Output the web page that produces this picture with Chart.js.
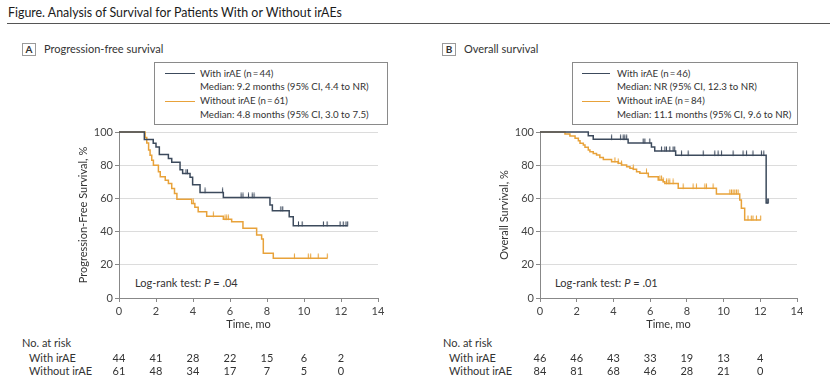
<!DOCTYPE html>
<html><head><meta charset="utf-8">
<script src="https://cdn.jsdelivr.net/npm/chart.js@4.4.1/dist/chart.umd.min.js"></script>
<style>
html,body{margin:0;padding:0;background:#fff;}
#wrap{position:relative;width:830px;height:390px;overflow:hidden;font-family:Lato,'Liberation Sans',sans-serif;color:#333;}
.t{position:absolute;white-space:nowrap;font-size:11px;line-height:14px;}
.box{position:absolute;border:1px solid #8a8a8a;box-sizing:border-box;}
.lab{position:absolute;border:1px solid #9a9a9a;box-sizing:border-box;width:14px;height:13px;font-size:10px;font-weight:bold;text-align:center;line-height:11px;}
.ln{position:absolute;height:1.5px;}
canvas{position:absolute;top:0;}
</style></head><body>
<div id="wrap">
 <div class="t" style="left:8px;top:4px;font-size:12.4px;line-height:17px;color:#1a1a1a;">Figure. Analysis of Survival for Patients With or Without irAEs</div>
 <div style="position:absolute;left:7px;top:23px;width:823px;height:1px;background:#555"></div>

 <div class="lab" style="left:22px;top:43px;">A</div>
 <div class="t" style="left:44px;top:42px;">Progression-free survival</div>
 <div class="lab" style="left:442px;top:43px;">B</div>
 <div class="t" style="left:464px;top:42px;">Overall survival</div>

 <div class="box" style="left:154px;top:62px;width:234px;height:63px;"></div>
 <div class="ln" style="left:165px;top:72.5px;width:30px;background:#3c4a5c"></div>
 <div class="ln" style="left:165px;top:100.5px;width:30px;background:#e8a23a"></div>
 <div class="t" style="left:200px;top:66.5px;font-size:9.7px;line-height:13.8px;">With irAE (n&#8201;=&#8201;44)<br>Median: 9.2 months (95% CI, 4.4 to NR)<br>Without irAE (n&#8201;=&#8201;61)<br>Median: 4.8 months (95% CI, 3.0 to 7.5)</div>

 <div class="box" style="left:572px;top:62px;width:226px;height:63px;"></div>
 <div class="ln" style="left:582px;top:72.5px;width:28px;background:#3c4a5c"></div>
 <div class="ln" style="left:582px;top:100.5px;width:28px;background:#e8a23a"></div>
 <div class="t" style="left:617px;top:66.5px;font-size:9.7px;line-height:13.8px;">With irAE (n&#8201;=&#8201;46)<br>Median: NR (95% CI, 12.3 to NR)<br>Without irAE (n&#8201;=&#8201;84)<br>Median: 11.1 months (95% CI, 9.6 to NR)</div>

 <div class="t" style="left:135px;top:276px;">Log-rank test: <i>P</i> = .04</div>
 <div class="t" style="left:555px;top:276px;">Log-rank test: <i>P</i> = .01</div>

 <div class="t" style="left:22px;top:336px;">No. at risk</div>
 <div class="t" style="left:29px;top:351px;">With irAE</div>
 <div class="t" style="left:29px;top:364px;">Without irAE</div>
 <div class="t" style="left:443px;top:336px;">No. at risk</div>
 <div class="t" style="left:449px;top:351px;">With irAE</div>
 <div class="t" style="left:449px;top:364px;">Without irAE</div>

 <canvas id="cA" width="415" height="390" style="left:0px"></canvas>
 <canvas id="cB" width="415" height="390" style="left:415px"></canvas>
</div>
<script>
// ---- data ----
const xTicks = [0, 2, 4, 6, 8, 10, 12, 14];
const riskTimes = [0, 2, 4, 6, 8, 10, 12];

// Panel A: progression-free survival
const pfsWithTime = [0, 1.37, 1.85, 2.0, 2.18, 2.67, 2.85, 3.3, 3.44, 3.84, 3.98, 4.38, 5.64, 8.16, 8.29, 9.2, 9.42, 12.36];
const pfsWithSurv = [100, 95.5, 93.2, 90.9, 86.4, 84.1, 81.8, 77.3, 75.0, 72.7, 68.2, 63.6, 60.6, 56.0, 52.6, 48.9, 43.5, 43.5];
const pfsWithCensor = [3.62, 3.7, 4.65, 5.6, 6.6, 6.7, 7.0, 7.2, 7.3, 8.75, 8.85, 9.7, 9.9, 11.05, 11.25, 11.95, 12.12, 12.27, 12.36];
const pfsWithoutTime = [0, 1.41, 1.5, 1.6, 1.68, 1.77, 1.86, 2.13, 2.23, 2.5, 2.67, 2.85, 3.0, 3.13, 3.93, 4.1, 4.28, 4.74, 5.64, 6.09, 6.7, 7.44, 7.71, 7.8, 8.34, 11.26];
const pfsWithoutSurv = [100, 96.7, 93.4, 89.2, 86.0, 83.0, 80.0, 76.0, 73.0, 71.0, 69.0, 66.0, 63.0, 59.5, 57.0, 54.6, 52.0, 49.2, 47.4, 46.0, 42.0, 38.0, 35.5, 27.0, 24.0, 24.0];
const pfsWithoutCensor = [4.02, 5.1, 5.73, 5.82, 5.91, 9.48, 10.23, 10.36, 10.77, 11.26];
const pfsRiskWith = [44, 41, 28, 22, 15, 6, 2];
const pfsRiskWithout = [61, 48, 34, 17, 7, 5, 0];

// Panel B: overall survival
const osWithTime = [0, 2.63, 2.9, 4.8, 6.07, 6.25, 7.39, 12.32, 12.44];
const osWithSurv = [100, 97.8, 95.6, 93.4, 91.0, 88.6, 86.0, 57.3, 57.3];
const osWithCensor = [3.9, 4.39, 4.53, 4.62, 4.72, 5.62, 5.71, 5.98, 6.62, 6.8, 6.89, 7.07, 7.25, 7.34, 7.71, 8.07, 8.89, 9.52, 9.7, 9.89, 10.52, 11.06, 11.25, 11.6, 12.06, 12.19, 12.38, 12.44];
const osWithoutTime = [0, 1.36, 1.63, 1.91, 2.09, 2.18, 2.36, 2.45, 2.63, 2.72, 2.9, 3.08, 3.26, 3.45, 3.9, 4.26, 4.44, 4.72, 4.9, 5.08, 5.26, 5.44, 5.9, 6.44, 6.71, 6.8, 7.53, 9.61, 10.88, 10.97, 11.15, 12.02];
const osWithoutSurv = [100, 98.8, 97.6, 96.2, 94.8, 93.2, 92.2, 90.8, 89.2, 88.1, 87.1, 86.1, 84.7, 83.5, 82.1, 81.1, 80.1, 79.1, 78.1, 77.5, 76.1, 75.1, 73.1, 71.1, 70.0, 69.0, 66.1, 62.7, 59.0, 54.0, 47.0, 47.0];
const osWithoutCensor = [4.08, 4.26, 4.44, 5.08, 5.8, 6.53, 6.62, 6.71, 6.89, 6.98, 7.07, 7.25, 7.8, 8.34, 8.52, 8.98, 9.07, 9.43, 10.34, 10.43, 10.52, 10.61, 10.7, 10.79, 11.33, 11.51, 11.6, 11.79, 12.02];
const osRiskWith = [46, 46, 43, 33, 19, 13, 4];
const osRiskWithout = [84, 81, 68, 46, 28, 21, 0];

// ---- styling ----
const DARK = '#3c4a5c', ORANGE = '#e8a23a';
const FONT = "Lato, 'Liberation Sans', sans-serif";
Chart.defaults.font.family = FONT;
Chart.defaults.color = '#444';

function pts(t, s) { return t.map((v, i) => ({x: v, y: s[i]})); }
function survAt(t, s, x) { let v = s[0]; for (let i = 0; i < t.length; i++) { if (t[i] <= x) v = s[i]; } return v; }
function censorPts(t, s, c) { return c.map(x => ({x: x, y: survAt(t, s, x)})); }

// upward tick mark used as censoring symbol
function tickStyle(col) {
  const c = document.createElement('canvas');
  c.width = 3; c.height = 10;
  const g = c.getContext('2d');
  g.strokeStyle = col; g.lineWidth = 1.1;
  g.beginPath(); g.moveTo(1.5, 0.5); g.lineTo(1.5, 5.5); g.stroke();
  return c;
}

const riskPlugin = {
  id: 'risk',
  afterDraw(chart, args, opts) {
    const ctx = chart.ctx, xs = chart.scales.x;
    ctx.save();
    ctx.font = '11px ' + FONT; ctx.fillStyle = '#333';
    ctx.textAlign = 'center'; ctx.textBaseline = 'middle';
    opts.rows.forEach((row, ri) => {
      row.forEach((v, i) => ctx.fillText(String(v), xs.getPixelForValue(riskTimes[i]), opts.ys[ri]));
    });
    ctx.restore();
  }
};

function makeChart(id, cfg) {
  const lineDs = (t, s, col) => ({type: 'line', data: pts(t, s), borderColor: col, borderWidth: 1.5, stepped: true, pointRadius: 0, fill: false, clip: 4});
  const cenDs = (t, s, c, col) => ({type: 'scatter', data: censorPts(t, s, c), pointStyle: tickStyle(col), pointRadius: 3, showLine: false, clip: 8});
  return new Chart(document.getElementById(id), {
    type: 'line',
    data: {datasets: [
      lineDs(cfg.wT, cfg.wS, DARK),
      lineDs(cfg.oT, cfg.oS, ORANGE),
      cenDs(cfg.wT, cfg.wS, cfg.wC, DARK),
      cenDs(cfg.oT, cfg.oS, cfg.oC, ORANGE)
    ]},
    options: {
      responsive: false, animation: false,
      layout: {padding: {left: cfg.padLeft, right: cfg.padRight, top: 132, bottom: 59}},
      plugins: {legend: {display: false}, tooltip: {enabled: false}, risk: {rows: cfg.risk, ys: [358, 371]}},
      scales: {
        x: {
          type: 'linear', min: 0, max: 14,
          afterBuildTicks: s => { s.ticks = xTicks.map(v => ({value: v})); },
          afterFit: s => { s.height = 33; },
          grid: {drawOnChartArea: false, drawTicks: true, tickLength: 4, tickColor: '#888'},
          border: {display: true, color: '#888', width: 1},
          ticks: {font: {size: 11}, color: '#444', padding: 3, maxRotation: 0},
          title: {display: true, text: 'Time, mo', font: {size: 11}, color: '#333', padding: 0}
        },
        y: {
          min: 0, max: 100,
          ticks: {stepSize: 20, font: {size: 11}, color: '#444', padding: 2},
          afterFit: s => { s.width = cfg.yW; },
          grid: {color: '#dcdcdc', lineWidth: 1, tickLength: 4, tickColor: '#888'},
          border: {display: true, color: '#888', width: 1},
          title: {display: true, text: cfg.yTitle, font: {size: 11}, color: '#333', padding: 0}
        }
      }
    },
    plugins: [riskPlugin]
  });
}

makeChart('cA', {
  wT: pfsWithTime, wS: pfsWithSurv, wC: pfsWithCensor,
  oT: pfsWithoutTime, oS: pfsWithoutSurv, oC: pfsWithoutCensor,
  risk: [pfsRiskWith, pfsRiskWithout],
  padLeft: 77, yW: 42, padRight: 37, yTitle: 'Progression-Free Survival, %'
});
makeChart('cB', {
  wT: osWithTime, wS: osWithSurv, wC: osWithCensor,
  oT: osWithoutTime, oS: osWithoutSurv, oC: osWithoutCensor,
  risk: [osRiskWith, osRiskWithout],
  padLeft: 83, yW: 42, padRight: 33, yTitle: 'Overall Survival, %'
});
</script>
</body></html>
